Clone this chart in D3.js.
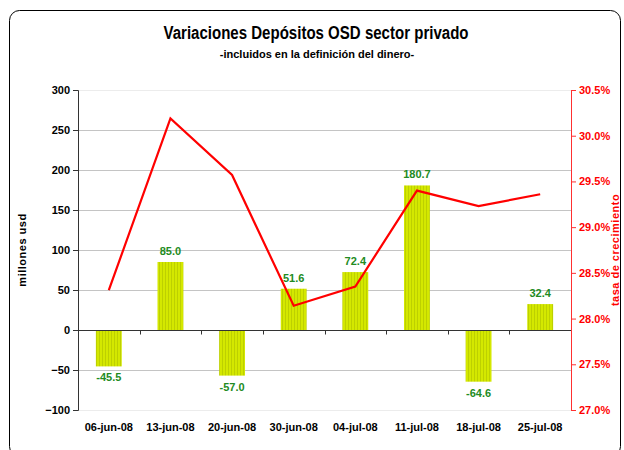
<!DOCTYPE html>
<html>
<head>
<meta charset="utf-8">
<script src="https://cdn.jsdelivr.net/npm/d3@7"></script>
<style>
  body { margin: 0; background: #fff; }
  text { font-family: "Liberation Sans", Arial, sans-serif; }
</style>
</head>
<body>
<div id="chart"></div>
<script>
const width = 624;
const height = 450;

// data
const fechas = ["06-jun-08", "13-jun-08", "20-jun-08", "30-jun-08", "04-jul-08", "11-jul-08", "18-jul-08", "25-jul-08"];
const variaciones = [-45.5, 85.0, -57.0, 51.6, 72.4, 180.7, -64.6, 32.4];
const tasaCrecimiento = [28.31, 30.19, 29.57, 28.14, 28.35, 29.40, 29.23, 29.36];
const leftTicks = [300, 250, 200, 150, 100, 50, 0, -50, -100];
const rightTicks = [30.5, 30.0, 29.5, 29.0, 28.5, 28.0, 27.5, 27.0];

const margin = { top: 90, right: 53, bottom: 40, left: 78 };
const plotW = width - margin.left - margin.right;
const plotH = height - margin.top - margin.bottom;

const svg = d3.select("#chart")
  .append("svg")
  .attr("width", width)
  .attr("height", height);

// bar stripe pattern
const pat = svg.append("defs")
  .append("pattern")
  .attr("id", "stripes")
  .attr("patternUnits", "userSpaceOnUse")
  .attr("width", 3)
  .attr("height", 3);
pat.append("rect").attr("width", 3).attr("height", 3).attr("fill", "#d4e800");
pat.append("rect").attr("width", 1).attr("height", 3).attr("fill", "#bdd000");

// outer frame
svg.append("rect")
  .attr("x", 9.5)
  .attr("y", 10.5)
  .attr("width", 611)
  .attr("height", 446)
  .attr("rx", 10)
  .attr("fill", "#fff")
  .attr("stroke", "#000")
  .attr("stroke-width", 1);

// titles
svg.append("text")
  .attr("x", 316)
  .attr("y", 39)
  .attr("text-anchor", "middle")
  .attr("textLength", 305)
  .attr("lengthAdjust", "spacingAndGlyphs")
  .style("font-size", "18px")
  .style("font-weight", "bold")
  .text("Variaciones Depósitos OSD sector privado");

svg.append("text")
  .attr("x", 317)
  .attr("y", 58)
  .attr("text-anchor", "middle")
  .style("font-size", "11px")
  .style("font-weight", "bold")
  .text("-incluidos en la definición del dinero-");

const g = svg.append("g")
  .attr("transform", `translate(${margin.left},${margin.top})`);

const x = d3.scaleBand()
  .domain(fechas)
  .range([0, plotW])
  .paddingInner(0.58)
  .paddingOuter(0.29);

const y = d3.scaleLinear()
  .domain([-100, 300])
  .range([plotH, 0]);

const y2 = d3.scaleLinear()
  .domain([27.0, 30.5])
  .range([plotH, 0]);

// gridlines
g.append("g")
  .selectAll("line")
  .data(leftTicks)
  .join("line")
  .attr("x1", 0)
  .attr("x2", plotW)
  .attr("y1", d => Math.round(y(d)) + 0.5)
  .attr("y2", d => Math.round(y(d)) + 0.5)
  .attr("stroke", d => (d === 300 || d === -100) ? "#ececec" : "#c4c4c4")
  .attr("stroke-width", 1);

// bars
g.append("g")
  .selectAll("rect")
  .data(variaciones)
  .join("rect")
  .attr("x", (d, i) => x(fechas[i]))
  .attr("width", x.bandwidth())
  .attr("y", d => y(Math.max(0, d)))
  .attr("height", d => Math.abs(y(d) - y(0)))
  .attr("fill", "url(#stripes)");

// zero axis line with category ticks
const zeroY = Math.round(y(0)) + 0.5;
g.append("line")
  .attr("x1", 0)
  .attr("x2", plotW)
  .attr("y1", zeroY)
  .attr("y2", zeroY)
  .attr("stroke", "#333")
  .attr("stroke-width", 1);

const step = x.step();
g.append("g")
  .selectAll("line")
  .data(d3.range(1, fechas.length + 1))
  .join("line")
  .attr("x1", d => Math.round(d * step) + 0.5)
  .attr("x2", d => Math.round(d * step) + 0.5)
  .attr("y1", zeroY)
  .attr("y2", zeroY + 4)
  .attr("stroke", "#333");

// bar value labels
g.append("g")
  .selectAll("text")
  .data(variaciones)
  .join("text")
  .attr("x", (d, i) => x(fechas[i]) + x.bandwidth() / 2)
  .attr("y", d => d >= 0 ? y(d) - 7 : y(d) + 15)
  .attr("text-anchor", "middle")
  .attr("fill", "#228b22")
  .style("font-size", "11px")
  .style("font-weight", "bold")
  .text(d => d.toFixed(1));

// left axis
const leftAxis = g.append("g")
  .call(d3.axisLeft(y).tickValues(leftTicks).tickSize(5).tickPadding(3).tickFormat(d3.format("d")));
leftAxis.select(".domain").attr("stroke", "#333");
leftAxis.selectAll(".tick line").attr("stroke", "#333");
leftAxis.selectAll("text")
  .attr("fill", "#000")
  .style("font-size", "11px")
  .style("font-weight", "bold")
  .style("font-family", "Liberation Sans, Arial, sans-serif");

// right axis
const rightAxis = g.append("g")
  .attr("transform", `translate(${plotW},0)`)
  .call(d3.axisRight(y2).tickValues(rightTicks).tickSize(5).tickPadding(3).tickFormat(d => d.toFixed(1) + "%"));
rightAxis.select(".domain").attr("stroke", "#ff3030");
rightAxis.selectAll(".tick line").attr("stroke", "#ff3030");
rightAxis.selectAll("text")
  .attr("fill", "#ff0000")
  .style("font-size", "11px")
  .style("font-weight", "bold")
  .style("font-family", "Liberation Sans, Arial, sans-serif");

// category labels
g.append("g")
  .selectAll("text")
  .data(fechas)
  .join("text")
  .attr("x", d => x(d) + x.bandwidth() / 2)
  .attr("y", plotH + 21)
  .attr("text-anchor", "middle")
  .style("font-size", "11px")
  .style("font-weight", "bold")
  .text(d => d);

// growth line
const line = d3.line()
  .x((d, i) => x(fechas[i]) + x.bandwidth() / 2)
  .y(d => y2(d));

g.append("path")
  .datum(tasaCrecimiento)
  .attr("d", line)
  .attr("fill", "none")
  .attr("stroke", "#ff0000")
  .attr("stroke-width", 2.2);

// axis titles
svg.append("text")
  .attr("transform", "translate(26,250) rotate(-90)")
  .attr("text-anchor", "middle")
  .style("font-size", "11px")
  .style("font-weight", "bold")
  .style("letter-spacing", "0.5px")
  .text("millones usd");

svg.append("text")
  .attr("transform", "translate(619,250) rotate(-90)")
  .attr("text-anchor", "middle")
  .attr("fill", "#ff0000")
  .style("font-size", "11px")
  .style("font-weight", "bold")
  .style("letter-spacing", "0.5px")
  .text("tasa de crecimiento");
</script>
</body>
</html>
